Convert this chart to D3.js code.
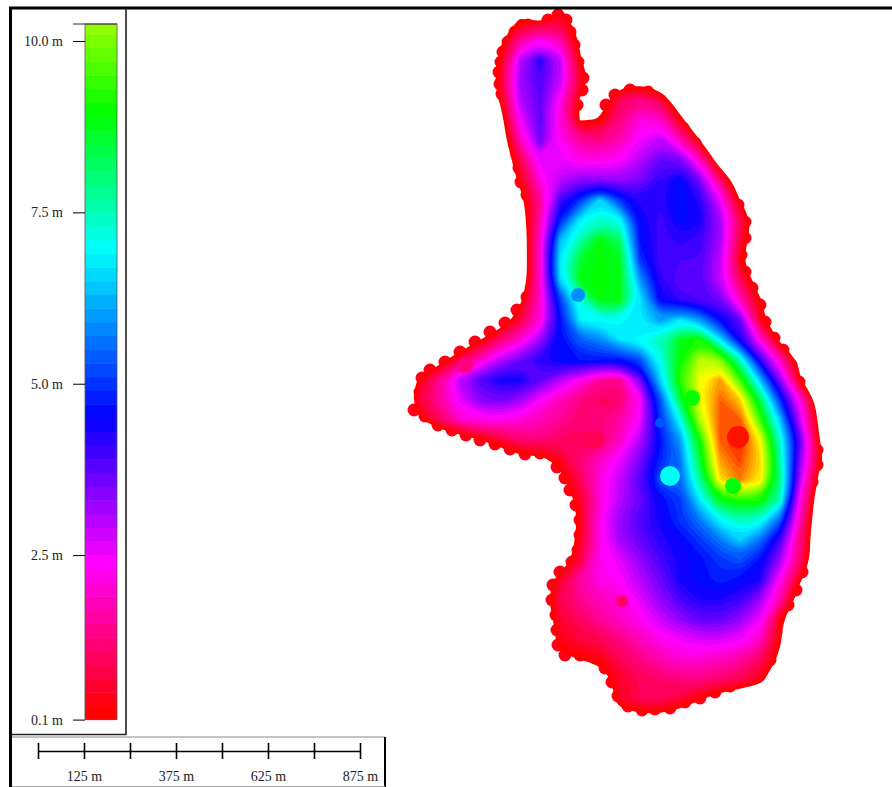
<!DOCTYPE html>
<html>
<head>
<meta charset="utf-8">
<script src="https://cdn.jsdelivr.net/npm/d3@7"></script>
<style>
    html, body { margin: 0; padding: 0; background: #fff; }
    svg { display: block; }
    text { font-family: "Liberation Serif", serif; font-size: 14px; fill: #222; }
</style>
</head>
<body>
<div id="chart"></div>
<script>
// depth in metres on a regular grid over the map, negative = dry ground past the shore
const depthRows = [
    [-1,-1,-1,-1,-1,-1,-1,-1,-0.6,-1,-1,-1,-1,-1,-1,-1,-1,-1,-1,-1,-1,-1,-1],
    [-1,-1,-1,-1,-1,-0.8,0.2,0.0,0.7,-0.5,-1,-1,-1,-1,-1,-1,-1,-1,-1,-1,-1,-1,-1],
    [-1,-1,-1,-1,-1,-0.1,1.5,2.4,1.7,-0.05,-1,-1,-1,-1,-1,-1,-1,-1,-1,-1,-1,-1,-1],
    [-1,-1,-1,-1,-1,0.3,3.0,4.2,3.0,0.2,-1,-1,-1,-1,-1,-1,-1,-1,-1,-1,-1,-1,-1],
    [-1,-1,-1,-1,-1,0.5,3.2,3.9,2.9,0.7,-0.7,-0.5,-0.3,-0.7,-1,-1,-1,-1,-1,-1,-1,-1,-1],
    [-1,-1,-1,-1,-1,0.2,3.0,3.7,2.3,0.0,-0.5,1.0,1.4,0.8,-0.7,-1,-1,-1,-1,-1,-1,-1,-1],
    [-1,-1,-1,-1,-1,-0.4,2.4,3.8,2.0,0.05,0.15,1.3,2.2,2.0,0.4,-1,-1,-1,-1,-1,-1,-1,-1],
    [-1,-1,-1,-1,-1,-0.7,1.8,3.6,2.3,1.5,1.3,1.7,2.5,3.0,1.8,0.1,-1,-1,-1,-1,-1,-1,-1],
    [-1,-1,-1,-1,-1,-0.9,0.8,2.6,2.6,2.2,2.2,2.4,3.0,3.7,3.6,1.9,-0.6,-1,-1,-1,-1,-1,-1],
    [-1,-1,-1,-1,-1,-1,0.3,2.1,3.0,3.4,3.4,3.2,3.5,4.1,4.6,3.5,1.2,-0.7,-1,-1,-1,-1,-1],
    [-1,-1,-1,-1,-1,-1,-0.2,1.4,4.0,5.0,6.6,5.0,4.2,4.2,4.7,4.2,2.6,0.1,-1,-1,-1,-1,-1],
    [-1,-1,-1,-1,-1,-1,-0.6,1.7,4.8,6.8,7.4,7.0,4.6,4.0,4.6,4.4,3.2,1.0,-0.7,-1,-1,-1,-1],
    [-1,-1,-1,-1,-1,-1,-0.9,2.0,6.3,7.6,8.9,8.2,4.6,4.0,4.2,4.0,3.2,0.8,-0.9,-1,-1,-1,-1],
    [-1,-1,-1,-1,-1,-1,-0.9,2.0,6.8,8.6,9.0,8.7,5.0,4.0,3.9,3.9,2.9,0.3,-1,-1,-1,-1,-1],
    [-1,-1,-1,-1,-1,-1,-0.9,2.0,6.6,8.8,9.0,8.8,6.0,4.2,3.7,3.7,2.9,1.0,-0.5,-1,-1,-1,-1],
    [-1,-1,-1,-1,-1,-1,-0.1,2.0,5.0,7.2,8.9,8.8,6.8,4.5,4.1,3.9,3.6,1.9,0.2,-1,-1,-1,-1],
    [-1,-1,-1,-1,-1,-0.7,0.7,2.0,4.6,6.9,7.0,7.0,6.7,6.0,6.8,6.0,4.6,3.7,0.5,-0.9,-1,-1,-1],
    [-1,-1,-1,-1,0.1,1.2,2.0,3.2,4.6,5.4,5.8,6.7,7.0,7.5,8.8,9.2,6.8,4.4,2.2,-0.1,-1,-1,-1],
    [-1,-1,-0.3,0.9,1.9,3.0,3.6,4.2,4.6,4.7,4.7,4.6,5.2,7.0,9.0,10.6,10.2,7.5,4.2,1.9,-0.2,-1,-1],
    [-1,0.3,1.6,3.0,3.9,4.4,4.4,3.8,3.0,2.3,1.5,1.4,3.5,6.5,9.3,11.1,12.0,9.5,6.4,3.4,0.2,-1,-1],
    [-0.9,0.8,1.6,2.6,3.4,3.6,3.2,2.4,1.8,1.3,1.0,1.1,2.3,5.2,8.4,11,12.5,11.6,8.4,5,2.3,-0.7,-1],
    [-1,0.0,1.0,2.0,2.2,2.2,2.1,1.8,1.5,1.2,1.3,1.6,2.5,5.0,7,10.5,12.6,12.6,9.5,6.4,2.8,-0.3,-1],
    [-1,-1,-1,-0.6,0.1,0.6,1.1,1.3,1.0,1.0,0.9,1.9,3.0,4.6,6,9,12.6,13.2,11.2,7.4,3.8,0.1,-1],
    [-1,-1,-1,-1,-1,-0.8,-0.2,-0.2,0.4,1.3,1.9,2.6,3.5,4.8,5.6,8.6,12,12.8,11.5,7.6,3.4,0.3,-1],
    [-1,-1,-1,-1,-1,-1,-1,-1,-0.2,0.9,2.2,2.9,3.9,5.3,5.5,7.8,11.4,12.3,11.4,8,3,-0.3,-1],
    [-1,-1,-1,-1,-1,-1,-1,-1,-0.9,0.5,2,3,3.6,4.5,5,6.8,8.8,9.2,9.2,7.5,2.2,-0.8,-1],
    [-1,-1,-1,-1,-1,-1,-1,-1,-1,0.3,2.3,3.3,3.9,4.4,5,5.7,6.9,7.5,7.2,5.4,1.8,-1,-1],
    [-1,-1,-1,-1,-1,-1,-1,-1,-1,0.5,2.2,3.2,3.7,4.2,4.5,5,5.7,6.5,5.6,4,1.2,-1,-1],
    [-1,-1,-1,-1,-1,-1,-1,-1,-0.7,0.7,2.3,2.6,3.3,3.9,4.4,4.6,5,5.3,4.6,3.2,1.2,-1,-1],
    [-1,-1,-1,-1,-1,-1,-1,-0.8,0.6,1.7,2.2,2.4,3,3.6,4.4,4.6,4.8,4.6,4.3,2.3,0.2,-1,-1],
    [-1,-1,-1,-1,-1,-1,-1,-0.5,0.9,1.4,1.8,2,2.6,3.3,3.9,4.3,4.3,4,3.2,1.7,-0.5,-1,-1],
    [-1,-1,-1,-1,-1,-1,-1,-0.9,0.6,1,1.5,1.9,2.3,2.8,3.3,3.7,3.7,3.3,2.5,0.3,-1,-1,-1],
    [-1,-1,-1,-1,-1,-1,-1,-0.9,0.4,0.7,0.9,1.3,1.8,2.2,2.5,2.7,2.7,2.5,1.9,0.2,-1,-1,-1],
    [-1,-1,-1,-1,-1,-1,-1,-1,-0.1,0.1,0.3,0.9,1.3,1.7,2,2,1.8,1.6,1,-0.1,-1,-1,-1],
    [-1,-1,-1,-1,-1,-1,-1,-1,-1,-1,-0.5,0.5,0.9,1.1,1.3,1.3,1.1,0.9,0.4,-0.9,-1,-1,-1],
    [-1,-1,-1,-1,-1,-1,-1,-1,-1,-1,-0.9,0.5,0.9,0.9,0.6,0.1,-0.5,-0.9,-1,-1,-1,-1,-1],
    [-1,-1,-1,-1,-1,-1,-1,-1,-1,-1,-1,-0.5,-0.3,-0.3,-0.5,-1,-1,-1,-1,-1,-1,-1,-1]
];

// soundings along the shoreline, in grid columns and rows
const shoreCols = [7.9,8.3,7.4,6.4,5.75,5.4,5.15,5.05,4.95,5,5.1,5.4,5.6,5.75,5.8,5.85,5.95,6.05,6.35,6.6,6.65,6.85,6.9,6.9,6.75,6.35,5.85,5.25,4.5,3.75,3,2.25,1.5,1.1,1,0.7,1.25,1.9,2.6,3.3,4,4.75,5.5,6.25,7,7.6,7.85,8.25,8.5,8.8,9,9,8.9,8.6,8,7.65,7.6,7.8,7.85,7.9,8.25,9,9.75,10.25,10.6,10.9,11.4,12.1,12.75,13.5,14.25,15,15.75,16.5,17.25,18,18.5,18.65,18.8,18.9,19.4,19.8,20.1,20.05,19.95,20.1,20.25,20.6,20.85,20.85,20.55,20.35,20.15,19.95,19.55,19.15,18.7,18.25,18,17.6,17.25,17.05,17.25,17.25,16.9,16.4,15.8,15.3,14.75,14.15,13.5,13,12.4,11.5,10.75,10.3,8.85,9.1,9.15,8.9,8.7,8.5];
const shoreRows = [0.75,1,1,1.25,1.6,2.1,2.6,3.1,3.6,4.2,4.7,5.2,5.9,6.5,7.1,7.75,8.4,9.1,9.75,10.4,11.1,11.9,12.75,13.6,14.25,14.85,15.5,16.15,16.6,17.1,17.6,18.1,18.5,18.9,19.6,20.5,20.8,21.25,21.5,21.75,22,22.2,22.45,22.7,22.65,22.75,23.35,23.9,24.5,25.25,26,26.75,27.5,28.1,28.6,29.25,30,30.75,31.5,32.25,32.75,32.75,32.9,33.4,34.1,34.8,35.3,35.5,35.45,35.4,35.1,34.9,34.6,34.3,34,33.7,33,32.25,31.6,31,30.25,29.5,28.6,27.75,26.75,25.75,24.9,24.1,23.25,22.5,21.75,20.9,20,19.1,18.25,17.5,16.9,16.1,15.25,14.4,13.6,12.75,11.9,11.1,10.25,9.5,8.75,8,7.15,6.4,5.6,5,4.6,4.5,4.75,5.25,5.25,4.5,3.9,3.1,2.25,1.6];
const shoreDepth = 0.3;

// single soundings that stand out from the surface: column, row, depth
const spotCols = [8.9, 14.6, 13.5, 16.65, 11.1, 3.25, 9.75, 13];
const spotRows = [14.75, 19.9, 23.8, 24.3, 30.05, 18.25, 22.0, 21.15];
const spotDepths = [5.8, 8.9, 6.9, 8.8, 1.0, 1.2, 0.8, 5.2];
const spotSizes = [7, 8, 10, 8, 6, 8, 8, 5];

const peakCol = 16.9, peakRow = 21.85, peakDepth = 13.1;

const colorStops = [0.1, 2.3, 4.43, 6.85, 8.85, 11.05, 13.25];
const colorNames = ["#ff0000", "#ff00ff", "#0000ff", "#00ffff", "#00ff00", "#ffff00", "#ff0000"];

const legendTicks = [0.1, 2.5, 5.0, 7.5, 10.0];
const scaleTicks = [0, 125, 250, 375, 500, 625, 750, 875];
const scaleLabels = [125, 375, 625, 875];

const width = 892, height = 787;
const nCols = depthRows[0].length, nRows = depthRows.length;

const svg = d3.select("#chart").append("svg")
    .attr("width", width)
    .attr("height", height);

// Scales
const x = d3.scaleLinear().domain([0.5, nCols - 0.5]).range([400, 840]);
const y = d3.scaleLinear().domain([0.5, nRows - 0.5]).range([0, 720]);
const color = d3.scaleLinear().domain(colorStops).range(colorNames);
const legendY = d3.scaleLinear().domain([0.1, 10]).range([719.6, 41]);
const barX = d3.scaleLinear().domain([0, 875]).range([38, 360]);

const bandSize = 0.2;
const thresholds = d3.range(0.1, 13.3, bandSize);

// Scalloped shore, under the bands
svg.append("g").selectAll("circle")
    .data(shoreCols.map((c, i) => ({ col: c, row: shoreRows[i] })))
    .join("circle")
    .attr("cx", d => x(d.col + 0.5))
    .attr("cy", d => y(d.row + 0.5))
    .attr("r", 6.5)
    .attr("fill", color(shoreDepth));

// Depth bands
const contours = d3.contours().size([nCols, nRows]).thresholds(thresholds)(depthRows.flat());
const ring = d3.line().x(d => x(d[0])).y(d => y(d[1])).curve(d3.curveBasisClosed);

svg.append("g").selectAll("path")
    .data(contours)
    .join("path")
    .attr("fill", d => color(d.value))
    .attr("fill-rule", "evenodd")
    .attr("d", d => d.coordinates.map(poly => poly.map(r => ring(r.slice(0, -1))).join("")).join(""));

// Soundings
svg.append("g").selectAll("circle")
    .data(spotCols.map((c, i) => ({ col: c, row: spotRows[i], depth: spotDepths[i], r: spotSizes[i] })))
    .join("circle")
    .attr("cx", d => x(d.col + 0.5))
    .attr("cy", d => y(d.row + 0.5))
    .attr("r", d => d.r)
    .attr("fill", d => color(d.depth));

svg.append("circle")
    .attr("cx", x(peakCol + 0.5))
    .attr("cy", y(peakRow + 0.5))
    .attr("r", 11)
    .attr("fill", color(peakDepth));

// Legend colour bar
const legendTop = 24;
const legendBands = thresholds.filter(v => legendY(v) > legendTop);
svg.append("g").selectAll("rect")
    .data(legendBands)
    .join("rect")
    .attr("x", 85)
    .attr("width", 32)
    .attr("y", d => Math.max(legendTop, legendY(d + bandSize)))
    .attr("height", d => legendY(d) - Math.max(legendTop, legendY(d + bandSize)) + 0.5)
    .attr("fill", d => color(d));

svg.append("rect")
    .attr("x", 85).attr("y", legendTop)
    .attr("width", 32).attr("height", legendY(0.1) - legendTop)
    .attr("fill", "none")
    .attr("stroke", "#555")
    .attr("stroke-width", 0.8);

const legendAxis = d3.axisLeft(legendY)
    .tickValues(legendTicks)
    .tickFormat(d => d.toFixed(1) + " m")
    .tickSize(12)
    .tickPadding(10);

const legendG = svg.append("g")
    .attr("transform", "translate(85,0)")
    .call(legendAxis);
legendG.select(".domain").remove();
legendG.selectAll("text").style("font-family", '"Liberation Serif", serif').style("font-size", "14px");
legendG.append("line")
    .attr("x1", -12).attr("x2", 32)
    .attr("y1", legendTop).attr("y2", legendTop)
    .attr("stroke", "#333");

// Scale bar
const barAxis = d3.axisBottom(barX)
    .tickValues(scaleTicks)
    .tickFormat(d => scaleLabels.includes(d) ? d + " m" : "")
    .tickSize(8)
    .tickSizeOuter(0)
    .tickPadding(12);

const barG = svg.append("g")
    .attr("transform", "translate(0,751)")
    .call(barAxis);
barG.select(".domain").attr("stroke", "#000").attr("stroke-width", 1.6);
barG.selectAll(".tick line").attr("y1", -8).attr("stroke", "#000").attr("stroke-width", 1.6);
barG.selectAll("text").style("font-family", '"Liberation Serif", serif').style("font-size", "14px");

// Frame
const frame = svg.append("g").attr("fill", "none");
frame.append("path").attr("d", "M10.5,787V8H892").attr("stroke", "#000").attr("stroke-width", 3);
frame.append("path").attr("d", "M126,8V734.5H12").attr("stroke", "#222").attr("stroke-width", 1.6);
frame.append("path").attr("d", "M12,737H385").attr("stroke", "#888").attr("stroke-width", 1);
frame.append("path").attr("d", "M385,737V787").attr("stroke", "#000").attr("stroke-width", 2);
frame.append("path").attr("d", "M12,786.5H385").attr("stroke", "#aaa").attr("stroke-width", 1);
</script>
</body>
</html>
